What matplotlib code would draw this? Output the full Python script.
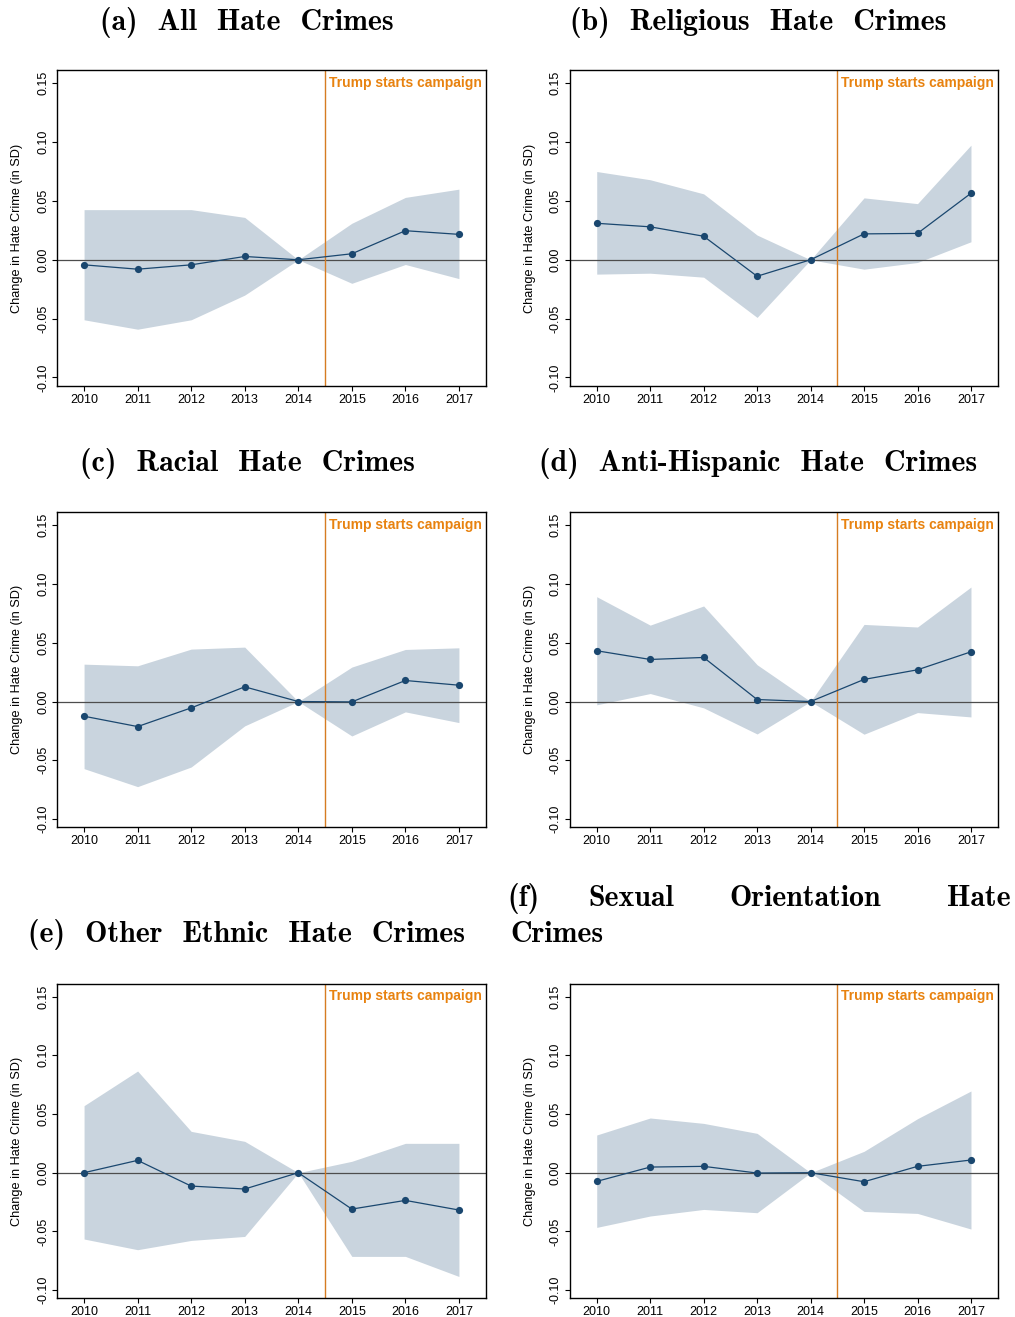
import numpy as np
import matplotlib
matplotlib.use('Agg')
import matplotlib.pyplot as plt

plt.rcParams['font.family'] = ['Liberation Sans', 'DejaVu Sans']
plt.rcParams['axes.unicode_minus'] = False

W, H = 1015, 1317

years = [2010, 2011, 2012, 2013, 2014, 2015, 2016, 2017]

# 系数与95%置信区间（以2014为基准年）
coef_all = [-0.0043, -0.0080, -0.0043, 0.0028, 0.0, 0.0051, 0.0247, 0.0216]
hi_all = [0.0426, 0.0426, 0.0426, 0.0360, 0.0, 0.0310, 0.0530, 0.0600]
lo_all = [-0.0510, -0.0590, -0.0510, -0.0300, 0.0, -0.0200, -0.0040, -0.0160]

coef_rel = [0.0310, 0.0280, 0.0200, -0.0140, 0.0, 0.0220, 0.0224, 0.0565]
hi_rel = [0.0750, 0.0680, 0.0560, 0.0210, 0.0, 0.0526, 0.0477, 0.0974]
lo_rel = [-0.0122, -0.0114, -0.0148, -0.0490, 0.0, -0.0080, -0.0023, 0.0153]

coef_race = [-0.0125, -0.0213, -0.0054, 0.0125, 0.0, -0.0003, 0.0179, 0.0139]
hi_race = [0.0318, 0.0304, 0.0446, 0.0463, 0.0, 0.0293, 0.0443, 0.0457]
lo_race = [-0.0571, -0.0724, -0.0557, -0.0207, 0.0, -0.0293, -0.0088, -0.0179]

coef_hisp = [0.0432, 0.0358, 0.0375, 0.0017, 0.0, 0.0188, 0.0270, 0.0423]
hi_hisp = [0.0892, 0.0650, 0.0813, 0.0313, 0.0, 0.0656, 0.0634, 0.0974]
lo_hisp = [-0.0028, 0.0068, -0.0054, -0.0276, 0.0, -0.0278, -0.0094, -0.0131]

coef_eth = [0.0, 0.0105, -0.0114, -0.0139, 0.0, -0.0310, -0.0236, -0.0318]
hi_eth = [0.0571, 0.0866, 0.0352, 0.0267, 0.0, 0.0097, 0.0250, 0.0250]
lo_eth = [-0.0565, -0.0656, -0.0577, -0.0543, 0.0, -0.0713, -0.0713, -0.0884]

coef_sex = [-0.0074, 0.0048, 0.0054, -0.0003, 0.0, -0.0077, 0.0054, 0.0108]
hi_sex = [0.0321, 0.0466, 0.0420, 0.0335, 0.0, 0.0182, 0.0460, 0.0696]
lo_sex = [-0.0466, -0.0369, -0.0313, -0.0341, 0.0, -0.0330, -0.0347, -0.0480]

yticks = [-0.10, -0.05, 0.00, 0.05, 0.10, 0.15]
ytick_labels = ['-0.10', '-0.05', '0.00', '0.05', '0.10', '0.15']

NAVY = '#1a476f'
BAND = '#c9d4de'
ORANGE_TXT = '#e8820f'
ORANGE_LINE = '#d67c22'

# 面板位置（像素）：左、右、上、下
cols = [(57.3, 485.7), (570.0, 997.7)]
rows = [(70.3, 385.7), (512.3, 827.3), (983.7, 1298.3)]

panels = [
    (coef_all, lo_all, hi_all),
    (coef_rel, lo_rel, hi_rel),
    (coef_race, lo_race, hi_race),
    (coef_hisp, lo_hisp, hi_hisp),
    (coef_eth, lo_eth, hi_eth),
    (coef_sex, lo_sex, hi_sex),
]

fig = plt.figure(figsize=(W / 100, H / 100), dpi=100)


def add_panel(rect_px, coef, lo, hi):
    x0, x1, y0, y1 = rect_px
    ax = fig.add_axes([x0 / W, 1 - y1 / H, (x1 - x0) / W, (y1 - y0) / H])
    ax.fill_between(years, lo, hi, color=BAND, lw=0, zorder=1)
    ax.axhline(0, color='#4d4d4d', lw=0.9, zorder=2)
    ax.axvline(2014.5, color=ORANGE_LINE, lw=1.0, zorder=2)
    ax.plot(years, coef, color=NAVY, lw=0.9, marker='o', markersize=5.2,
            markeredgewidth=0, zorder=3)
    ax.set_xlim(2009.5, 2017.5)
    ax.set_ylim(-0.107, 0.161)
    ax.set_xticks(years)
    ax.set_xticklabels([str(y) for y in years], fontsize=9)
    ax.set_yticks(yticks)
    ax.set_yticklabels(ytick_labels, fontsize=9, rotation=90, va='center')
    ax.tick_params(axis='both', direction='out', length=3.8, width=0.8,
                   color='black', pad=2)
    for s in ax.spines.values():
        s.set_linewidth(1.0)
        s.set_color('black')
    ax.set_ylabel('Change in Hate Crime (in SD)', fontsize=9.2)
    ax.yaxis.set_label_coords(-0.080, 0.5)
    ax.text(0.992, 0.96, 'Trump starts campaign', transform=ax.transAxes,
            ha='right', va='center', fontsize=10.0, fontweight='bold',
            color=ORANGE_TXT)
    return ax


i = 0
for r in rows:
    for c in cols:
        coef, lo, hi = panels[i]
        add_panel((c[0], c[1], r[0], r[1]), coef, lo, hi)
        i += 1


def ftext(x, y, s, ha='center'):
    fig.text(x / W, 1 - y / H, s, ha=ha, va='center', fontsize=21.5,
             family='cmb10')


ftext(247, 22, '(a)  All  Hate  Crimes')
ftext(758, 22, '(b)  Religious  Hate  Crimes')
ftext(247, 464, '(c)  Racial  Hate  Crimes')
ftext(758, 464, '(d)  Anti-Hispanic  Hate  Crimes')
ftext(247, 935, '(e)  Other  Ethnic  Hate  Crimes')

# (f) 标题两端对齐、分两行
ftext(507, 899, '(f)', ha='left')
ftext(588, 899, 'Sexual', ha='left')
ftext(729, 899, 'Orientation', ha='left')
ftext(1011, 899, 'Hate', ha='right')
ftext(510, 935, 'Crimes', ha='left')

fig.savefig('out.png', dpi=100)
